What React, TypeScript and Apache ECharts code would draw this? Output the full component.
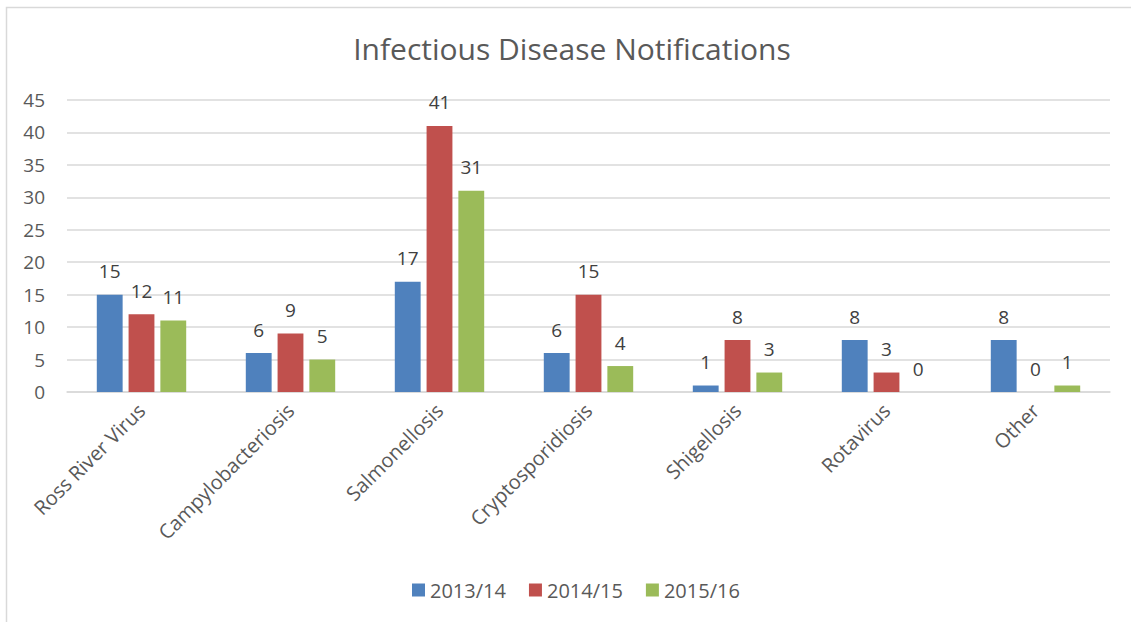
import React, { useEffect, useRef } from "react";
import * as echarts from "echarts";

const categories = ["Ross River Virus", "Campylobacteriosis", "Salmonellosis", "Cryptosporidiosis", "Shigellosis", "Rotavirus", "Other"];
const seriesNames = ["2013/14", "2014/15", "2015/16"];
const values2013 = [15, 6, 17, 6, 1, 8, 8];
const values2014 = [12, 9, 41, 15, 8, 3, 0];
const values2015 = [11, 5, 31, 4, 3, 0, 1];
const colors = ["#4F81BD", "#C0504D", "#9BBB59"];
const titleText = "Infectious Disease Notifications";

const FONT = "'Open Sans', sans-serif";

export default function App() {
  const ref = useRef<HTMLDivElement>(null);
  useEffect(() => {
    if (!ref.current) return;
    const chart = echarts.init(ref.current, undefined, { renderer: "svg" });
    const data = [values2013, values2014, values2015];
    chart.setOption({
      animation: false,
      backgroundColor: "#ffffff",
      textStyle: { fontFamily: FONT },
      title: {
        text: titleText,
        left: 567,
        textAlign: "center",
        top: 28,
        textStyle: { fontFamily: FONT, fontSize: 30, fontWeight: "normal", color: "#595959" },
      },
      legend: {
        top: 575,
        left: 407,
        itemWidth: 13,
        itemHeight: 13,
        itemGap: 23,
        icon: "rect",
        textStyle: { fontFamily: FONT, fontSize: 20, color: "#595959" },
        data: seriesNames,
      },
      graphic: [
        {
          type: "rect",
          shape: { x: 6.5, y: 7.5, width: 1200, height: 700 },
          style: { fill: "none", stroke: "#d9d9d9", lineWidth: 1.5 },
          silent: true,
        },
      ],
      grid: { left: 67, right: 21, top: 100, bottom: 230 },
      xAxis: {
        type: "category",
        data: categories,
        axisTick: { show: false },
        axisLine: { lineStyle: { color: "#d9d9d9", width: 1.5 } },
        axisLabel: { rotate: 45, fontFamily: FONT, fontSize: 20, color: "#595959", margin: 15 },
      },
      yAxis: {
        type: "value",
        min: 0,
        max: 45,
        interval: 5,
        axisLine: { show: false },
        axisTick: { show: false },
        splitLine: { lineStyle: { color: "#d9d9d9", width: 1.5 } },
        axisLabel: { fontFamily: FONT, fontSize: 19, color: "#595959", margin: 22 },
      },
      series: seriesNames.map((name, i) => ({
        name,
        type: "bar",
        data: data[i],
        barGap: "23%",
        barCategoryGap: "40%",
        itemStyle: { color: colors[i] },
        label: {
          show: true,
          position: "top",
          distance: 14,
          fontFamily: FONT,
          fontSize: 19,
          color: "#404040",
        },
      })),
    });
    return () => chart.dispose();
  }, []);
  return <div ref={ref} style={{ position: "absolute", left: 0, top: 0, width: 1131, height: 622 }} />;
}
